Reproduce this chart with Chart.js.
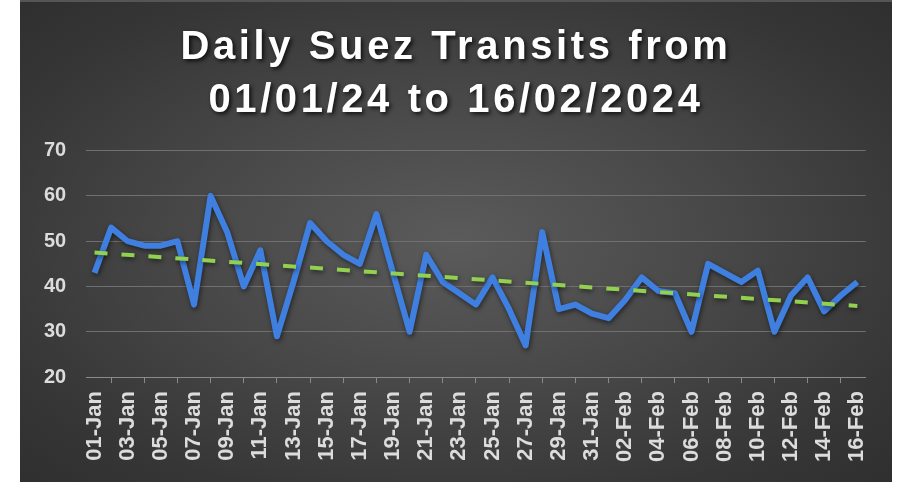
<!DOCTYPE html>
<html>
<head>
<meta charset="utf-8">
<script src="https://cdn.jsdelivr.net/npm/chart.js@4.4.1/dist/chart.umd.min.js"></script>
<style>
    html, body {
        margin: 0;
        padding: 0;
        background: #fff;
    }
    .panel {
        position: absolute;
        left: 20px;
        top: 0;
        width: 872px;
        height: 482px;
        background: radial-gradient(ellipse at 50% 50%, #5b5b5b 0%, #474747 45%, #363636 80%, #2f2f2f 100%);
        border-top: 2px solid #555;
        box-sizing: border-box;
    }
</style>
</head>
<body>
<div class="panel">
    <canvas id="transits-chart"></canvas>
</div>
<script>
const days = [
    "01-Jan", "02-Jan", "03-Jan", "04-Jan", "05-Jan", "06-Jan", "07-Jan", "08-Jan",
    "09-Jan", "10-Jan", "11-Jan", "12-Jan", "13-Jan", "14-Jan", "15-Jan", "16-Jan",
    "17-Jan", "18-Jan", "19-Jan", "20-Jan", "21-Jan", "22-Jan", "23-Jan", "24-Jan",
    "25-Jan", "26-Jan", "27-Jan", "28-Jan", "29-Jan", "30-Jan", "31-Jan",
    "01-Feb", "02-Feb", "03-Feb", "04-Feb", "05-Feb", "06-Feb", "07-Feb", "08-Feb",
    "09-Feb", "10-Feb", "11-Feb", "12-Feb", "13-Feb", "14-Feb", "15-Feb", "16-Feb",
];

const transits = [
    43, 53, 50, 49, 49, 50, 36, 60,
    52, 40, 48, 29, 41, 54, 50, 47,
    45, 56, 43, 30, 47, 41, 38.5, 36,
    42, 35, 27, 52, 35, 36, 34,
    33, 37, 42, 39, 38.5, 30, 45, 43,
    41, 43.5, 30, 38, 42, 34.5, 38, 41,
];

// trend line end points
const trendStart = 47.5;
const trendEnd = 35.7;

const yTicks = [20, 30, 40, 50, 60, 70];

const trend = days.map((d, i) =>
    i === 0 ? trendStart : i === days.length - 1 ? trendEnd : null
);

// soft drop shadow under the series, like the office chart
const lineShadow = {
    id: "lineShadow",
    beforeDatasetDraw(chart) {
        const ctx = chart.ctx;
        ctx.save();
        ctx.shadowColor = "rgba(0,0,0,0.55)";
        ctx.shadowBlur = 5;
        ctx.shadowOffsetX = 1;
        ctx.shadowOffsetY = 2;
    },
    afterDatasetDraw(chart) {
        chart.ctx.restore();
    },
};

// spaced, shadowed title; nudged so it sits centred on the panel
// (the uneven side padding would otherwise pull it left)
const titleStyle = {
    id: "titleStyle",
    afterInit(chart) {
        const tb = chart.titleBlock;
        if (!tb) {
            return;
        }
        const draw = tb.draw.bind(tb);
        tb.draw = function () {
            const ctx = chart.ctx;
            const pad = chart.options.layout.padding;
            ctx.save();
            ctx.translate((pad.right - pad.left) / 2, 0);
            ctx.letterSpacing = "3.6px";
            ctx.shadowColor = "rgba(0,0,0,0.8)";
            ctx.shadowBlur = 4;
            ctx.shadowOffsetX = 2;
            ctx.shadowOffsetY = 2;
            draw();
            ctx.restore();
        };
    },
};

function transitsChart() {
    const ctx = document.getElementById("transits-chart").getContext("2d");

    new Chart(ctx, {
        type: "line",
        data: {
            labels: days,
            datasets: [
                {
                    label: "Transits",
                    data: transits,
                    borderColor: "#3f7fe0",
                    borderWidth: 6,
                    pointRadius: 0,
                    tension: 0,
                    borderJoinStyle: "round",
                    order: 2,
                },
                {
                    label: "Trend",
                    data: trend,
                    borderColor: "#92d050",
                    borderWidth: 4,
                    borderDash: [13, 14],
                    pointRadius: 0,
                    spanGaps: true,
                    order: 1,
                },
            ],
        },
        options: {
            responsive: true,
            maintainAspectRatio: false,
            animation: false,
            layout: { padding: { left: 4, right: 26, top: 0, bottom: 12 } },
            plugins: {
                legend: { display: false },
                tooltip: { enabled: false },
                title: {
                    display: true,
                    text: ["Daily Suez Transits from", "01/01/24 to 16/02/2024"],
                    color: "#ffffff",
                    font: { family: "'Liberation Sans', Arial, sans-serif", size: 40, weight: "bold", lineHeight: 1.32 },
                    padding: { top: 20, bottom: 23 },
                },
            },
            scales: {
                x: {
                    offset: true,
                    grid: {
                        offset: true,
                        drawOnChartArea: false,
                        drawTicks: true,
                        tickLength: 6,
                        color: "#8a8a8a",
                    },
                    border: { display: true, color: "#8a8a8a", width: 1 },
                    ticks: {
                        autoSkip: false,
                        maxRotation: 90,
                        minRotation: 90,
                        padding: 8,
                        color: "#dcdcdc",
                        font: { family: "'Liberation Sans', Arial, sans-serif", size: 22, weight: "bold" },
                        callback: (value, index) => (index % 2 === 0 ? days[index] : null),
                    },
                },
                y: {
                    min: yTicks[0],
                    max: yTicks[yTicks.length - 1],
                    afterBuildTicks: (axis) => {
                        axis.ticks = yTicks.map((v) => ({ value: v }));
                    },
                    grid: { color: "#707070", lineWidth: 1, drawTicks: false },
                    border: { display: false },
                    ticks: {
                        padding: 20,
                        color: "#dcdcdc",
                        font: { family: "'Liberation Sans', Arial, sans-serif", size: 20, weight: "bold" },
                    },
                },
            },
        },
        plugins: [lineShadow, titleStyle],
    });
}

document.addEventListener("DOMContentLoaded", transitsChart);
</script>
</body>
</html>
